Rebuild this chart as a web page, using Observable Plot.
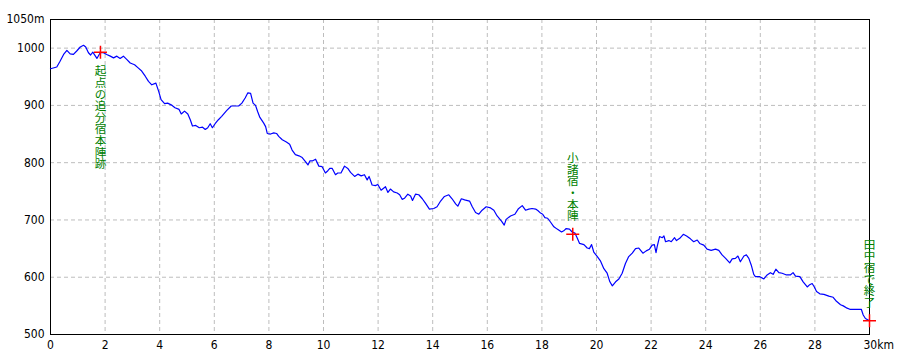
<!DOCTYPE html>
<html>
<head>
<meta charset="utf-8">
<script src="https://cdn.jsdelivr.net/npm/d3@7"></script>
<script src="https://cdn.jsdelivr.net/npm/@observablehq/plot@0.6"></script>
<style>
  html, body { margin: 0; padding: 0; background: #fff; }
  #chart svg { display: block; }
</style>
</head>
<body>
<div id="chart"></div>
<script>
// Distance along route (km)
const distanceKm = [
  0, 0.23, 0.35, 0.48, 0.6, 0.72, 0.84, 0.96, 1.09, 1.21, 1.29, 1.39, 1.47, 1.55, 1.7, 1.82, 1.94, 2.06, 2.19, 2.31,
  2.43, 2.55, 2.67, 2.8, 2.92, 3.08, 3.2, 3.34, 3.47, 3.59, 3.71, 3.86, 3.96, 4.05, 4.18, 4.29, 4.42, 4.56, 4.71, 4.79,
  4.91, 5.03, 5.12, 5.2, 5.32, 5.45, 5.57, 5.67, 5.76, 5.85, 5.93, 6.03, 6.15, 6.27, 6.45, 6.62, 6.89, 7.01, 7.13, 7.23,
  7.33, 7.42, 7.51, 7.59, 7.67, 7.81, 7.88, 7.94, 8.06, 8.18, 8.28, 8.36, 8.49, 8.64, 8.76, 8.85, 8.97, 9.1, 9.22, 9.34,
  9.43, 9.5, 9.59, 9.71, 9.83, 9.95, 10.07, 10.16, 10.23, 10.32, 10.44, 10.52, 10.64, 10.77, 10.89, 10.99, 11.14, 11.26, 11.38, 11.5,
  11.6, 11.67, 11.78, 11.9, 11.99, 12.11, 12.27, 12.36, 12.45, 12.57, 12.7, 12.79, 12.88, 12.97, 13.09, 13.19, 13.26, 13.37, 13.49, 13.62,
  13.74, 13.88, 14.04, 14.16, 14.29, 14.43, 14.59, 14.71, 14.84, 14.92, 15.0, 15.05, 15.17, 15.35, 15.45, 15.57, 15.69, 15.81, 15.96, 16.12,
  16.24, 16.36, 16.52, 16.62, 16.69, 16.85, 17.01, 17.13, 17.28, 17.4, 17.52, 17.64, 17.77, 17.86, 17.95, 18.03, 18.11, 18.21, 18.32, 18.44,
  18.56, 18.72, 18.8, 18.89, 19.01, 19.11, 19.21, 19.29, 19.38, 19.54, 19.66, 19.74, 19.82, 19.9, 20.03, 20.15, 20.27, 20.39, 20.49, 20.58,
  20.7, 20.82, 20.94, 21.06, 21.18, 21.31, 21.43, 21.55, 21.7, 21.82, 21.94, 22.04, 22.12, 22.18, 22.22, 22.31, 22.41, 22.47, 22.53, 22.65,
  22.74, 22.86, 22.93, 23.05, 23.18, 23.3, 23.44, 23.56, 23.69, 23.78, 23.93, 24.05, 24.2, 24.36, 24.48, 24.6, 24.73, 24.88, 24.97, 25.09,
  25.18, 25.27, 25.4, 25.49, 25.58, 25.67, 25.76, 25.82, 25.98, 26.13, 26.25, 26.37, 26.47, 26.57, 26.68, 26.8, 26.96, 27.1, 27.2, 27.29,
  27.45, 27.57, 27.72, 27.81, 27.9, 27.98, 28.06, 28.18, 28.33, 28.51, 28.67, 28.79, 28.94, 29.04, 29.18, 29.28, 29.43, 29.57, 29.7, 29.77,
  29.85, 30
];
// Elevation (m)
const elevationM = [
  964, 967, 977, 989, 996, 990, 989, 995, 1002, 1005, 1002, 992, 988, 993, 982, 992, 992, 989, 986, 983,
  986, 982, 986, 980, 974, 971, 966, 960, 951, 942, 936, 939, 925, 910, 903, 904, 901, 896, 893, 885,
  890, 885, 875, 864, 865, 861, 862, 858, 861, 868, 861, 868, 875, 881, 891, 899, 899, 904, 913, 922,
  921, 904, 900, 889, 879, 869, 863, 851, 850, 852, 851, 846, 840, 836, 832, 822, 814, 812, 809, 802,
  796, 803, 803, 806, 794, 793, 782, 786, 790, 790, 779, 782, 782, 794, 790, 783, 776, 780, 777, 779,
  770, 776, 761, 760, 762, 752, 758, 748, 754, 749, 747, 744, 736, 738, 745, 742, 734, 745, 744, 737,
  729, 719, 720, 723, 733, 741, 744, 737, 728, 724, 732, 737, 735, 733, 723, 713, 710, 717, 723, 721,
  717, 707, 698, 691, 701, 707, 710, 719, 725, 717, 719, 720, 719, 716, 712, 710, 704, 703, 696, 688,
  684, 679, 681, 685, 684, 679, 677, 669, 659, 657, 651, 650, 657, 644, 636, 628, 615, 607, 592, 585,
  592, 597, 607, 624, 636, 642, 650, 651, 642, 646, 649, 656, 657, 643, 653, 671, 669, 672, 662, 664,
  662, 669, 664, 668, 675, 672, 667, 662, 665, 659, 656, 649, 647, 649, 647, 639, 633, 625, 632, 633,
  637, 627, 637, 639, 633, 621, 605, 601, 601, 597, 604, 608, 605, 614, 608, 607, 604, 604, 608, 602,
  601, 592, 583, 587, 589, 583, 575, 571, 570, 567, 565, 558, 552, 550, 546, 544, 544, 544, 544, 534,
  528, 524
];
// Waypoint markers
const markerKm = [1.83, 19.13, 30];
const markerElev = [993, 675, 524];
const markerLabel = ["起点の追分宿本陣跡", "小諸宿・本陣", "田中宿で終了"];
// Axis ticks
const xTicks = [0, 2, 4, 6, 8, 10, 12, 14, 16, 18, 20, 22, 24, 26, 28];
const xGrid = [2, 4, 6, 8, 10, 12, 14, 16, 18, 20, 22, 24, 26, 28];
const yTicks = [500, 600, 700, 800, 900, 1000, 1050];
const yGrid = [600, 700, 800, 900, 1000];

const profile = distanceKm.map((d, i) => ({km: d, elev: elevationM[i]}));
const markers = markerKm.map((d, i) => ({
  km: d, elev: markerElev[i],
  label: Array.from(markerLabel[i]).join("\n")
}));

const plusSymbol = {
  draw(context, size) {
    const r = Math.sqrt(size / Math.PI);
    context.moveTo(-r, 0); context.lineTo(r, 0);
    context.moveTo(0, -r); context.lineTo(0, r);
  }
};

const numFont = "'Liberation Sans Narrow', 'DejaVu Sans Condensed', 'Liberation Sans', sans-serif";
const jpFont = "'Noto Sans CJK JP', sans-serif";

const chart = Plot.plot({
  width: 910,
  height: 364,
  marginLeft: 50,
  marginRight: 41,
  marginTop: 19,
  marginBottom: 30,
  style: {background: "#fff", fontFamily: numFont, fontSize: "12px", color: "#000"},
  x: {domain: [0, 30], label: null},
  y: {domain: [500, 1050], label: null},
  marks: [
    Plot.gridX(xGrid, {stroke: "#bdbdbd", strokeOpacity: 1, strokeDasharray: "4,3"}),
    Plot.gridY(yGrid, {stroke: "#bdbdbd", strokeOpacity: 1, strokeDasharray: "4,3"}),
    Plot.axisX(xTicks, {tickSize: 0, tickPadding: 6, fontSize: 12, fill: "#000", label: null}),
    Plot.text([30], {x: d => d, y: () => 500, text: () => "30km", textAnchor: "start", lineAnchor: "top", dx: -6, dy: 6, fontSize: 12, fill: "#000"}),
    Plot.axisY(yTicks, {tickSize: 0, tickPadding: 6, fontSize: 12, fill: "#000", label: null,
      tickFormat: d => d === 1050 ? "1050m" : String(d)}),
    Plot.frame({stroke: "#000", strokeWidth: 1}),
    Plot.line(profile, {x: "km", y: "elev", stroke: "#0000ff", strokeWidth: 1.2, curve: "linear"}),
    Plot.dot(markers, {x: "km", y: "elev", r: 6.5, symbol: plusSymbol, fill: "none", stroke: "#ff0000", strokeWidth: 1.5}),
    Plot.text(markers.filter((d, i) => i === 0), {x: "km", y: "elev", text: "label", lineAnchor: "top", dy: 15,
      lineHeight: 1.0, fontSize: 11.6, fontFamily: jpFont, fill: "#008000"}),
    Plot.text(markers.filter((d, i) => i > 0), {x: "km", y: "elev", text: "label", lineAnchor: "bottom", dy: -14,
      lineHeight: 1.0, fontSize: 11.6, fontFamily: jpFont, fill: "#008000"})
  ]
});
document.getElementById("chart").appendChild(chart);
</script>
</body>
</html>
